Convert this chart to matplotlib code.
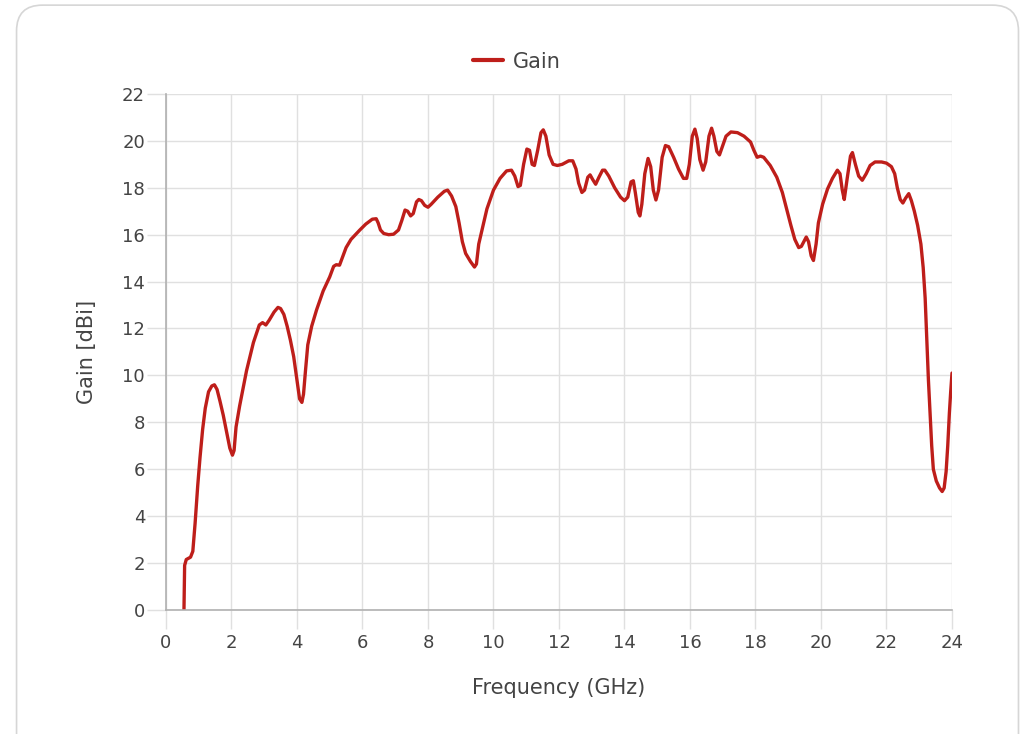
import matplotlib.pyplot as plt
from matplotlib.patches import FancyBboxPatch

# Gain vs frequency
freq_ghz = [0.55, 0.57, 0.62, 0.75, 0.82, 0.89, 0.97, 1.04, 1.12, 1.2, 1.3, 1.4,
            1.48, 1.56, 1.65, 1.75, 1.85, 1.95, 2.03, 2.08, 2.14, 2.25, 2.46, 2.67,
            2.85, 2.95, 3.05, 3.15, 3.3, 3.42, 3.5, 3.6, 3.7, 3.8, 3.9, 4.0,
            4.08, 4.15, 4.2, 4.26, 4.33, 4.45, 4.6, 4.8, 5.0, 5.12, 5.2, 5.3,
            5.38, 5.5, 5.65, 5.92, 6.1, 6.3, 6.42, 6.48, 6.55, 6.65, 6.8, 6.95,
            7.1, 7.2, 7.3, 7.38, 7.47, 7.55, 7.65, 7.72, 7.8, 7.9, 8.0, 8.1,
            8.3, 8.5, 8.6, 8.72, 8.85, 8.95, 9.05, 9.15, 9.3, 9.42, 9.48, 9.55,
            9.65, 9.8, 10.0, 10.2, 10.4, 10.55, 10.65, 10.75, 10.82, 10.92, 11.02, 11.1,
            11.18, 11.25, 11.35, 11.45, 11.52, 11.6, 11.7, 11.82, 11.95, 12.1, 12.3, 12.42,
            12.52, 12.6, 12.7, 12.78, 12.88, 12.95, 13.03, 13.12, 13.22, 13.33, 13.4, 13.52,
            13.7, 13.88, 14.0, 14.1, 14.2, 14.27, 14.33, 14.42, 14.47, 14.53, 14.62, 14.72,
            14.8, 14.88, 14.96, 15.04, 15.15, 15.25, 15.35, 15.5, 15.65, 15.8, 15.9, 15.98,
            16.07, 16.15, 16.22, 16.3, 16.4, 16.48, 16.58, 16.66, 16.73, 16.82, 16.9, 17.0,
            17.1, 17.25, 17.45, 17.65, 17.85, 17.95, 18.05, 18.15, 18.25, 18.45, 18.65, 18.82,
            18.95, 19.08, 19.2, 19.32, 19.4, 19.55, 19.62, 19.7, 19.77, 19.85, 19.92, 20.05,
            20.2, 20.35, 20.5, 20.58, 20.65, 20.71, 20.8, 20.9, 20.96, 21.05, 21.15, 21.26,
            21.38, 21.5, 21.65, 21.85, 22.0, 22.15, 22.25, 22.33, 22.42, 22.5, 22.58, 22.68,
            22.76, 22.85, 22.95, 23.05, 23.12, 23.18, 23.23, 23.28, 23.33, 23.38, 23.43, 23.52,
            23.62, 23.7, 23.76, 23.82, 23.87, 23.92, 23.96, 24.0]
gain_dbi = [0.0, 1.9, 2.15, 2.25, 2.5, 3.7, 5.3, 6.5, 7.7, 8.6, 9.3, 9.55,
            9.6, 9.4, 8.9, 8.3, 7.6, 6.9, 6.6, 6.8, 7.8, 8.7, 10.2, 11.4,
            12.15, 12.25, 12.15, 12.35, 12.7, 12.9, 12.85, 12.6, 12.1, 11.5, 10.8, 9.8,
            9.0, 8.85, 9.2, 10.2, 11.3, 12.1, 12.8, 13.6, 14.2, 14.65, 14.72, 14.7,
            15.0, 15.45, 15.8, 16.2, 16.45, 16.66, 16.68, 16.5, 16.2, 16.05, 16.0, 16.02,
            16.2, 16.6, 17.05, 17.0, 16.8, 16.9, 17.4, 17.5, 17.45, 17.25, 17.17, 17.3,
            17.6, 17.85, 17.9, 17.65, 17.2, 16.5, 15.7, 15.2, 14.85, 14.62, 14.75, 15.6,
            16.2, 17.1, 17.9, 18.4, 18.72, 18.75, 18.5, 18.05, 18.1, 19.0, 19.65, 19.6,
            19.0, 18.95, 19.6, 20.35, 20.47, 20.2, 19.4, 19.0, 18.95, 19.0, 19.15, 19.15,
            18.8, 18.2, 17.8, 17.9, 18.45, 18.55, 18.35, 18.15, 18.45, 18.75, 18.75, 18.5,
            18.0, 17.6, 17.45, 17.6, 18.25, 18.3, 17.8, 16.95, 16.8, 17.3, 18.6, 19.25,
            18.9, 17.9, 17.48, 17.9, 19.3, 19.8, 19.75, 19.3, 18.8, 18.4, 18.4, 19.0,
            20.2, 20.5, 20.1, 19.2, 18.75, 19.1, 20.2, 20.54, 20.2, 19.55, 19.4, 19.8,
            20.2, 20.38, 20.35, 20.2, 19.95, 19.6, 19.3, 19.35, 19.3, 18.95, 18.45, 17.8,
            17.1, 16.4, 15.8, 15.45, 15.5, 15.9, 15.7, 15.1, 14.9, 15.6, 16.5, 17.3,
            17.95, 18.4, 18.75, 18.6, 17.9, 17.5, 18.4, 19.35, 19.5, 19.0, 18.5, 18.32,
            18.6, 18.95, 19.1, 19.1, 19.05, 18.9, 18.6, 18.0, 17.5, 17.35, 17.55, 17.75,
            17.45, 17.0, 16.4, 15.6, 14.6, 13.3, 11.5, 9.8, 8.4, 7.0, 6.0, 5.5,
            5.2, 5.05, 5.2, 5.9, 7.0, 8.4, 9.3, 10.1]

x_ticks = list(range(0, 25, 2))
y_ticks = list(range(0, 23, 2))

TEXT = "#444444"
LINE = "#BE1E1A"
GRID = "#e0e0e0"

plt.rcParams["font.family"] = ["DejaVu Sans"]

fig = plt.figure(figsize=(10.34, 7.34), dpi=100)
fig.patch.set_facecolor("white")

# card frame
card = FancyBboxPatch((0.016, -0.05), 0.969, 1.043,
                      boxstyle="round,pad=0,rounding_size=0.025",
                      transform=fig.transFigure, fc="white", ec="#d6d6d6", lw=1.2,
                      mutation_aspect=1034 / 734, zorder=-5)
fig.patches.append(card)

ax = fig.add_axes([0.1605, 0.169, 0.7602, 0.703])
ax.set_facecolor("none")
line, = ax.plot(freq_ghz, gain_dbi, color=LINE, lw=2.4, label="Gain",
                solid_joinstyle="round", solid_capstyle="round")

ax.set_xlim(0, 24)
ax.set_ylim(0, 22)
ax.set_xticks(x_ticks)
ax.set_yticks(y_ticks)
ax.grid(True, color=GRID, lw=1.0)
ax.set_axisbelow(True)
for s in ["top", "right"]:
    ax.spines[s].set_visible(False)
for s in ["left", "bottom"]:
    ax.spines[s].set_color("#b0b0b0")
    ax.spines[s].set_linewidth(1.2)
ax.tick_params(axis="both", colors=GRID, labelcolor=TEXT, labelsize=13,
               length=14, width=1.0)
ax.tick_params(axis="x", pad=3)
ax.tick_params(axis="y", pad=1)

ax.set_xlabel("Frequency (GHz)", fontsize=15, color=TEXT, labelpad=19)
ax.set_ylabel("Gain [dBi]", fontsize=15, color=TEXT, labelpad=18)

# legend is centred on the card, not on the plot area
leg = fig.legend(handles=[line], loc="center", bbox_to_anchor=(0.5, 0.916),
                 frameon=False, fontsize=15, handlelength=1.45, handletextpad=0.45)
for t in leg.get_texts():
    t.set_color(TEXT)
leg.get_lines()[0].set_linewidth(3)

fig.savefig("out.png", dpi=100)
